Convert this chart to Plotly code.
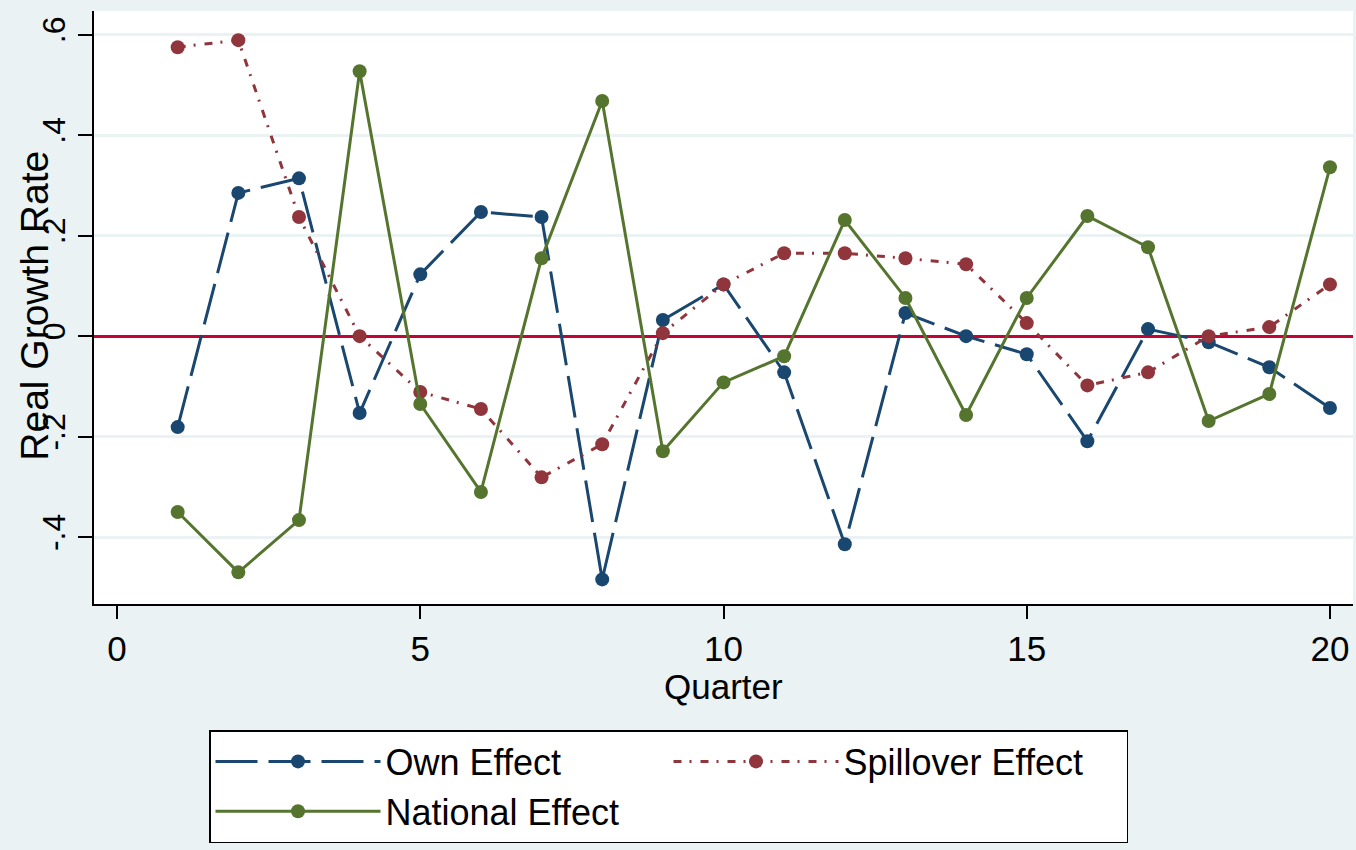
import plotly.graph_objects as go

quarters = list(range(1, 21))
own_effect = [-0.181, 0.285, 0.314, -0.153, 0.123, 0.247, 0.237, -0.484, 0.032, 0.103,
              -0.072, -0.414, 0.046, 0.0, -0.036, -0.209, 0.014, -0.012, -0.062, -0.143]
spillover_effect = [0.575, 0.589, 0.237, 0.0, -0.111, -0.145, -0.281, -0.215, 0.006, 0.103,
                    0.165, 0.165, 0.155, 0.143, 0.026, -0.098, -0.072, 0.0, 0.018, 0.103]
national_effect = [-0.350, -0.470, -0.366, 0.527, -0.135, -0.310, 0.155, 0.468, -0.229, -0.092,
                   -0.040, 0.231, 0.076, -0.157, 0.076, 0.239, 0.177, -0.169, -0.115, 0.336]

y_tickvals = [-0.4, -0.2, 0, 0.2, 0.4, 0.6]
y_ticktext = ["-.4", "-.2", "0", ".2", ".4", ".6"]
x_tickvals = [0, 5, 10, 15, 20]

NAVY = "#1a476f"
MAROON = "#90353b"
GREEN = "#55752f"
BG = "#eaf2f3"
FONT = "Liberation Sans, Arial, sans-serif"

W, H = 1356, 850
ML, MR, MT, MB = 94, 3, 11, 246
PW, PH = W - ML - MR, H - MT - MB

fig = go.Figure()
fig.add_trace(go.Scatter(x=quarters, y=own_effect, mode="lines+markers", name="Own Effect",
                         line=dict(color=NAVY, width=3, dash="42px,11px"),
                         marker=dict(color=NAVY, size=14)))
fig.add_trace(go.Scatter(x=quarters, y=spillover_effect, mode="lines+markers", name="Spillover Effect",
                         line=dict(color=MAROON, width=3, dash="8px,8px,2px,9px"),
                         marker=dict(color=MAROON, size=14)))
fig.add_trace(go.Scatter(x=quarters, y=national_effect, mode="lines+markers", name="National Effect",
                         line=dict(color=GREEN, width=3),
                         marker=dict(color=GREEN, size=14)))

fig.update_layout(
    width=W, height=H,
    margin=dict(l=ML, r=MR, t=MT, b=MB),
    paper_bgcolor=BG, plot_bgcolor="white",
    font=dict(family=FONT, color="black"),
    showlegend=True,
    legend=dict(orientation="h", xref="container", yref="container",
                x=209 / W, xanchor="left", y=1 - 730 / H, yanchor="top",
                bgcolor="white", bordercolor="black", borderwidth=1.5,
                font=dict(size=36, family=FONT), itemwidth=165,
                entrywidth=278, entrywidthmode="pixels", traceorder="normal"),
    xaxis=dict(range=[-0.38, 20.38], tickvals=x_tickvals, showgrid=False, zeroline=False,
               showline=True, linecolor="black", linewidth=1.5, automargin=False,
               ticks="outside", ticklen=13, tickwidth=1.5, tickcolor="black",
               tickfont=dict(size=35), ticklabelstandoff=0),
    yaxis=dict(range=[-0.533, 0.647], tickvals=y_tickvals, ticktext=y_ticktext,
               showgrid=True, gridcolor=BG, gridwidth=3,
               zeroline=True, zerolinecolor="#c10534", zerolinewidth=3,
               showline=True, linecolor="black", linewidth=1.5, automargin=False,
               ticks="outside", ticklen=14, tickwidth=1.5, tickcolor="black",
               tickfont=dict(size=32), tickangle=-90),
    annotations=[
        dict(text="Quarter", xref="paper", x=0.5, yref="paper", y=(H - MB - 686) / PH,
             showarrow=False, font=dict(size=35), xanchor="center", yanchor="middle"),
        dict(text="Real Growth Rate", xref="paper", x=(35 - ML) / PW, yref="paper", y=0.503,
             showarrow=False, font=dict(size=39), textangle=-90,
             xanchor="center", yanchor="middle"),
    ],
)

fig.write_html("out.html", config={"displayModeBar": False},
               post_script="document.body.style.margin='0';document.body.style.background='#eaf2f3';")
